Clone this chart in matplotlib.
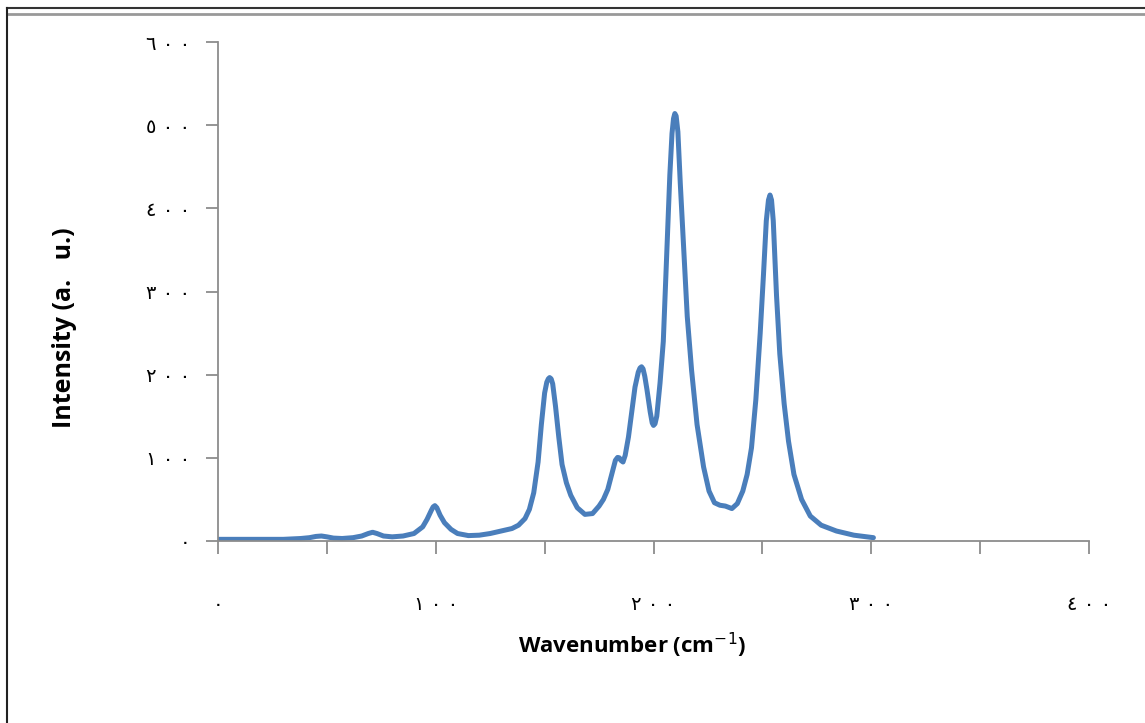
import matplotlib
matplotlib.use("Agg")
import matplotlib.pyplot as plt
from matplotlib.lines import Line2D

# spectrum (wavenumber, intensity)
wavenumber = [0, 10, 20, 30, 38, 42, 45, 47.5, 50, 53, 57, 62, 66, 69, 71, 73, 76, 80,
              85, 90, 94, 96, 98, 98.8, 99.6, 100.5, 102, 104, 107, 110, 115, 120, 125, 130,
              135, 138, 141, 143, 145, 147, 148.5, 150, 151, 151.7, 152.3, 153, 153.7, 155, 156.5,
              158, 160, 162, 165, 168.5, 172, 175, 177, 179, 181, 182.5, 183.5, 184.3, 185, 186,
              187, 188.5, 190, 191.5, 193, 193.8, 194.5, 195.2, 196, 197, 198.5, 199.4, 200,
              200.7, 201.5, 203, 204.5, 206, 207.5, 208.5, 209.2, 209.8, 210.4, 211.2, 212.3,
              213.7, 215.5, 217.5, 220, 223, 225.5, 228, 230.5, 233, 236, 238.5, 241, 243,
              245, 247, 249, 250.5, 251.8, 252.8, 253.5, 254.2, 255, 256.5, 258, 260, 262,
              264.5, 268, 272, 277, 284, 292, 301]
intensity = [2, 2, 2, 2, 3, 4, 5.5, 6, 5, 3.5, 3, 4, 6, 9, 10.5, 9, 6, 5,
             6, 9, 17, 26, 37, 41, 42.5, 40, 31, 22, 14, 9, 6.5, 7, 9, 12,
             15, 19, 27, 38, 58, 95, 140, 178, 191, 195, 196.5, 195, 189, 162, 125,
             92, 70, 55, 40, 32, 33, 42, 50, 62, 82, 97, 100.5, 100, 97, 95,
             103, 125, 155, 185, 203, 208, 209.5, 207, 198, 182, 155, 142, 139,
             141, 150, 190, 240, 340, 440, 490, 508, 514, 511, 492, 430,
             360, 270, 205, 140, 89, 60, 46, 43, 42, 39, 45, 60, 80,
             112, 170, 250, 320, 385, 410, 416, 410, 385, 295, 225, 165, 120,
             80, 50, 30, 19, 12, 7, 4]

x_ticks = [0, 100, 200, 300, 400]
y_ticks = [0, 100, 200, 300, 400, 500, 600]
x_ticklabels = ["٠", "١ ٠ ٠", "٢ ٠ ٠", "٣ ٠ ٠", "٤ ٠ ٠"]
y_ticklabels = ["٠", "١ ٠ ٠", "٢ ٠ ٠", "٣ ٠ ٠", "٤ ٠ ٠", "٥ ٠ ٠", "٦ ٠ ٠"]

fig = plt.figure(figsize=(11.45, 7.23), dpi=100)
ax = fig.add_axes([218 / 1145, 1 - 541 / 723, (1089 - 218) / 1145, (541 - 42) / 723])

ax.plot(wavenumber, intensity, color="#4a7ebb", lw=3.6, solid_capstyle="round",
        solid_joinstyle="round")

ax.set_xlim(0, 400)
ax.set_ylim(0, 600)
ax.set_xticks(x_ticks)
ax.set_yticks(y_ticks)
ax.set_xticks([50, 150, 250, 350], minor=True)
ax.set_xticklabels(x_ticklabels, family=["DejaVu Sans"], fontsize=14)
ax.set_yticklabels(y_ticklabels, family=["DejaVu Sans"], fontsize=14)

for s in ["top", "right"]:
    ax.spines[s].set_visible(False)
for s in ["left", "bottom"]:
    ax.spines[s].set_color("#8c8c8c")
    ax.spines[s].set_linewidth(1.3)
ax.tick_params(axis="both", which="both", direction="out", length=9, width=1.3,
               color="#8c8c8c")
ax.tick_params(axis="x", pad=30)
ax.tick_params(axis="y", pad=11)

ax.set_xlabel("Wavenumber (cm$^{-1}$)", fontsize=16, fontweight="bold",
              family=["Open Sans", "DejaVu Sans"], labelpad=12)
ax.set_ylabel("Intensity (a.   u.)", fontsize=18, fontweight="bold",
              family=["Open Sans", "DejaVu Sans"], labelpad=50)
ax.xaxis.label.set_x(0.475)
ax.yaxis.label.set_y(0.427)

# screenshot frame
fig.add_artist(Line2D([7 / 1145, 1], [1 - 8 / 723, 1 - 8 / 723], color="#333333", lw=1.5))
fig.add_artist(Line2D([7 / 1145, 1], [1 - 14 / 723, 1 - 14 / 723], color="#999999", lw=2))
fig.add_artist(Line2D([7 / 1145, 7 / 1145], [0, 1 - 8 / 723], color="#222222", lw=1.5))

fig.savefig("out.png", dpi=100)
